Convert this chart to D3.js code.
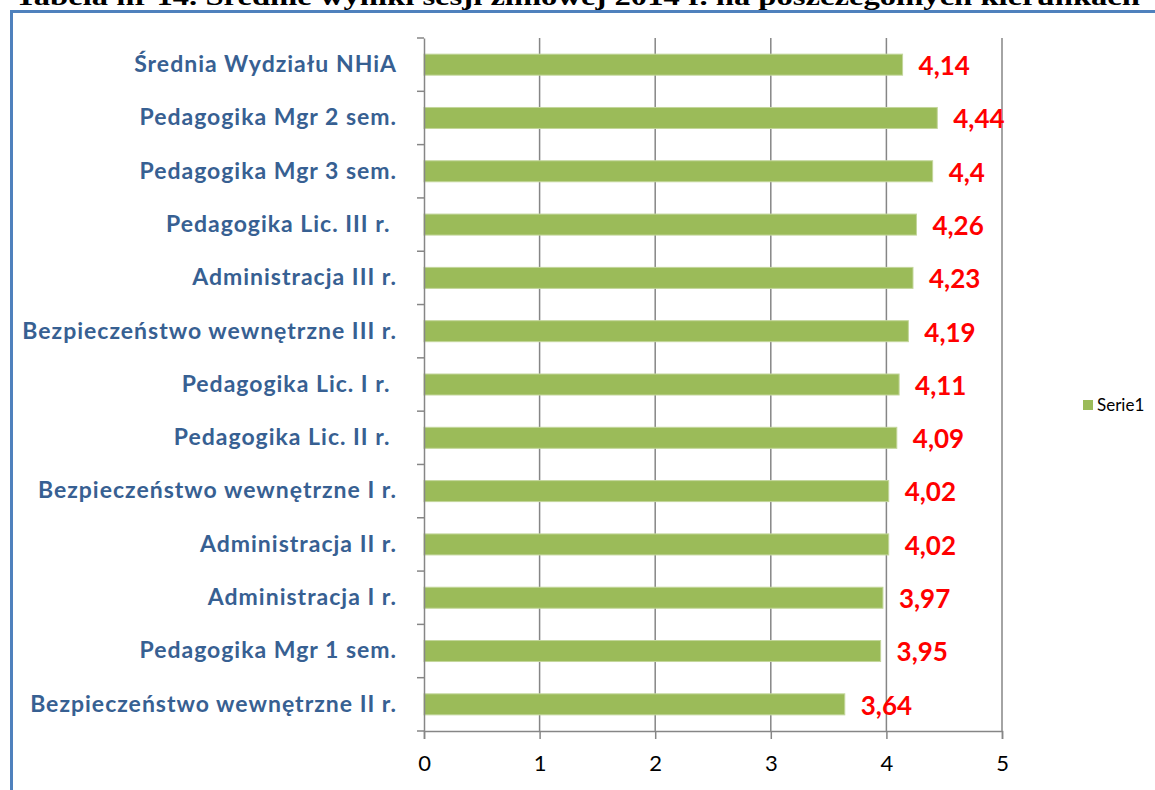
<!DOCTYPE html>
<html>
<head>
<meta charset="utf-8">
<script src="https://cdn.jsdelivr.net/npm/d3@7"></script>
<style>
  html, body { margin: 0; padding: 0; background: #fff; }
  text { white-space: pre; }
</style>
</head>
<body>
<div id="chart"></div>
<script>
const categories = [
  "Średnia Wydziału NHiA",
  "Pedagogika Mgr 2 sem.",
  "Pedagogika Mgr 3 sem.",
  "Pedagogika Lic. III r. ",
  "Administracja III r.",
  "Bezpieczeństwo wewnętrzne III r.",
  "Pedagogika Lic. I r. ",
  "Pedagogika Lic. II r. ",
  "Bezpieczeństwo wewnętrzne I r.",
  "Administracja II r.",
  "Administracja I r.",
  "Pedagogika Mgr 1 sem.",
  "Bezpieczeństwo wewnętrzne II r."
];
const values = [4.14, 4.44, 4.4, 4.26, 4.23, 4.19, 4.11, 4.09, 4.02, 4.02, 3.97, 3.95, 3.64];
const xTicks = [0, 1, 2, 3, 4, 5];
const seriesName = "Serie1";
const title = "Tabela nr 14. Średnie wyniki sesji zimowej 2014 r. na poszczególnych kierunkach";

const width = 1155, height = 790;
const svg = d3.select("#chart").append("svg")
  .attr("width", width)
  .attr("height", height);

// title, cut off at the top like the source
svg.append("text")
  .attr("x", 15)
  .attr("y", 5)
  .attr("font-family", "Liberation Serif")
  .attr("font-weight", "bold")
  .attr("font-size", 26)
  .attr("textLength", 1125)
  .attr("lengthAdjust", "spacingAndGlyphs")
  .text(title);

// chart frame
svg.append("path")
  .attr("d", "M11.5,790 V11.5 H1160")
  .attr("fill", "none")
  .attr("stroke", "#4F81BD")
  .attr("stroke-width", 3);

const x = d3.scaleLinear().domain([0, 5]).range([424, 1002]);
const band = d3.scaleBand().domain(categories).range([38, 731]);

// vertical gridlines
svg.append("g")
  .selectAll("line")
  .data(xTicks.slice(1))
  .join("line")
  .attr("x1", d => x(d)).attr("x2", d => x(d))
  .attr("y1", 38).attr("y2", 731)
  .attr("stroke", "#868686")
  .attr("stroke-width", 1.5);

// bars
svg.append("g")
  .selectAll("rect")
  .data(values)
  .join("rect")
  .attr("x", x(0))
  .attr("y", (d, i) => band(categories[i]) + band.bandwidth() / 2 - 10.5)
  .attr("width", d => x(d) - x(0))
  .attr("height", 21)
  .attr("fill", "#9BBB59")
  .attr("stroke", "#C3D69B")
  .attr("stroke-width", 1);

// value labels
svg.append("g")
  .selectAll("text")
  .data(values)
  .join("text")
  .attr("x", d => x(d) + 16)
  .attr("y", (d, i) => band(categories[i]) + band.bandwidth() / 2 + 1)
  .attr("dy", "0.36em")
  .attr("font-family", "Lato")
  .attr("font-weight", "bold")
  .attr("font-size", 26)
  .attr("fill", "#FF0000")
  .text(d => String(d).replace(".", ","));

// x axis
const xAxis = svg.append("g")
  .attr("transform", "translate(0,731)")
  .call(d3.axisBottom(x).tickValues(xTicks).tickFormat(d3.format("d")).tickSize(8).tickPadding(16));
xAxis.select(".domain").attr("stroke", "#868686").attr("stroke-width", 1.5);
xAxis.selectAll(".tick line").attr("stroke", "#868686").attr("stroke-width", 1.5);
xAxis.selectAll("text")
  .attr("font-family", "Lato")
  .attr("font-size", 22)
  .attr("fill", "#000");

// y axis
const yAxis = svg.append("g")
  .attr("transform", "translate(424,0)")
  .call(d3.axisLeft(band).tickSize(0).tickPadding(27));
yAxis.select(".domain").attr("stroke", "#868686").attr("stroke-width", 1.5);
yAxis.selectAll("text")
  .attr("font-family", "Lato")
  .attr("font-weight", "bold")
  .attr("font-size", 23)
  .attr("letter-spacing", 1)
  .attr("fill", "#376092");
// category boundary ticks
yAxis.append("g")
  .selectAll("line")
  .data(d3.range(categories.length + 1))
  .join("line")
  .attr("x1", -7).attr("x2", 0)
  .attr("y1", i => 38 + i * band.step())
  .attr("y2", i => 38 + i * band.step())
  .attr("stroke", "#868686")
  .attr("stroke-width", 1.5);

// legend
const legend = svg.append("g").attr("transform", "translate(1083,400)");
legend.append("rect")
  .attr("width", 10).attr("height", 10)
  .attr("fill", "#9BBB59");
legend.append("text")
  .attr("x", 14).attr("y", 5)
  .attr("dy", "0.36em")
  .attr("font-family", "Lato")
  .attr("font-size", 17)
  .attr("fill", "#000")
  .text(seriesName);
</script>
</body>
</html>
